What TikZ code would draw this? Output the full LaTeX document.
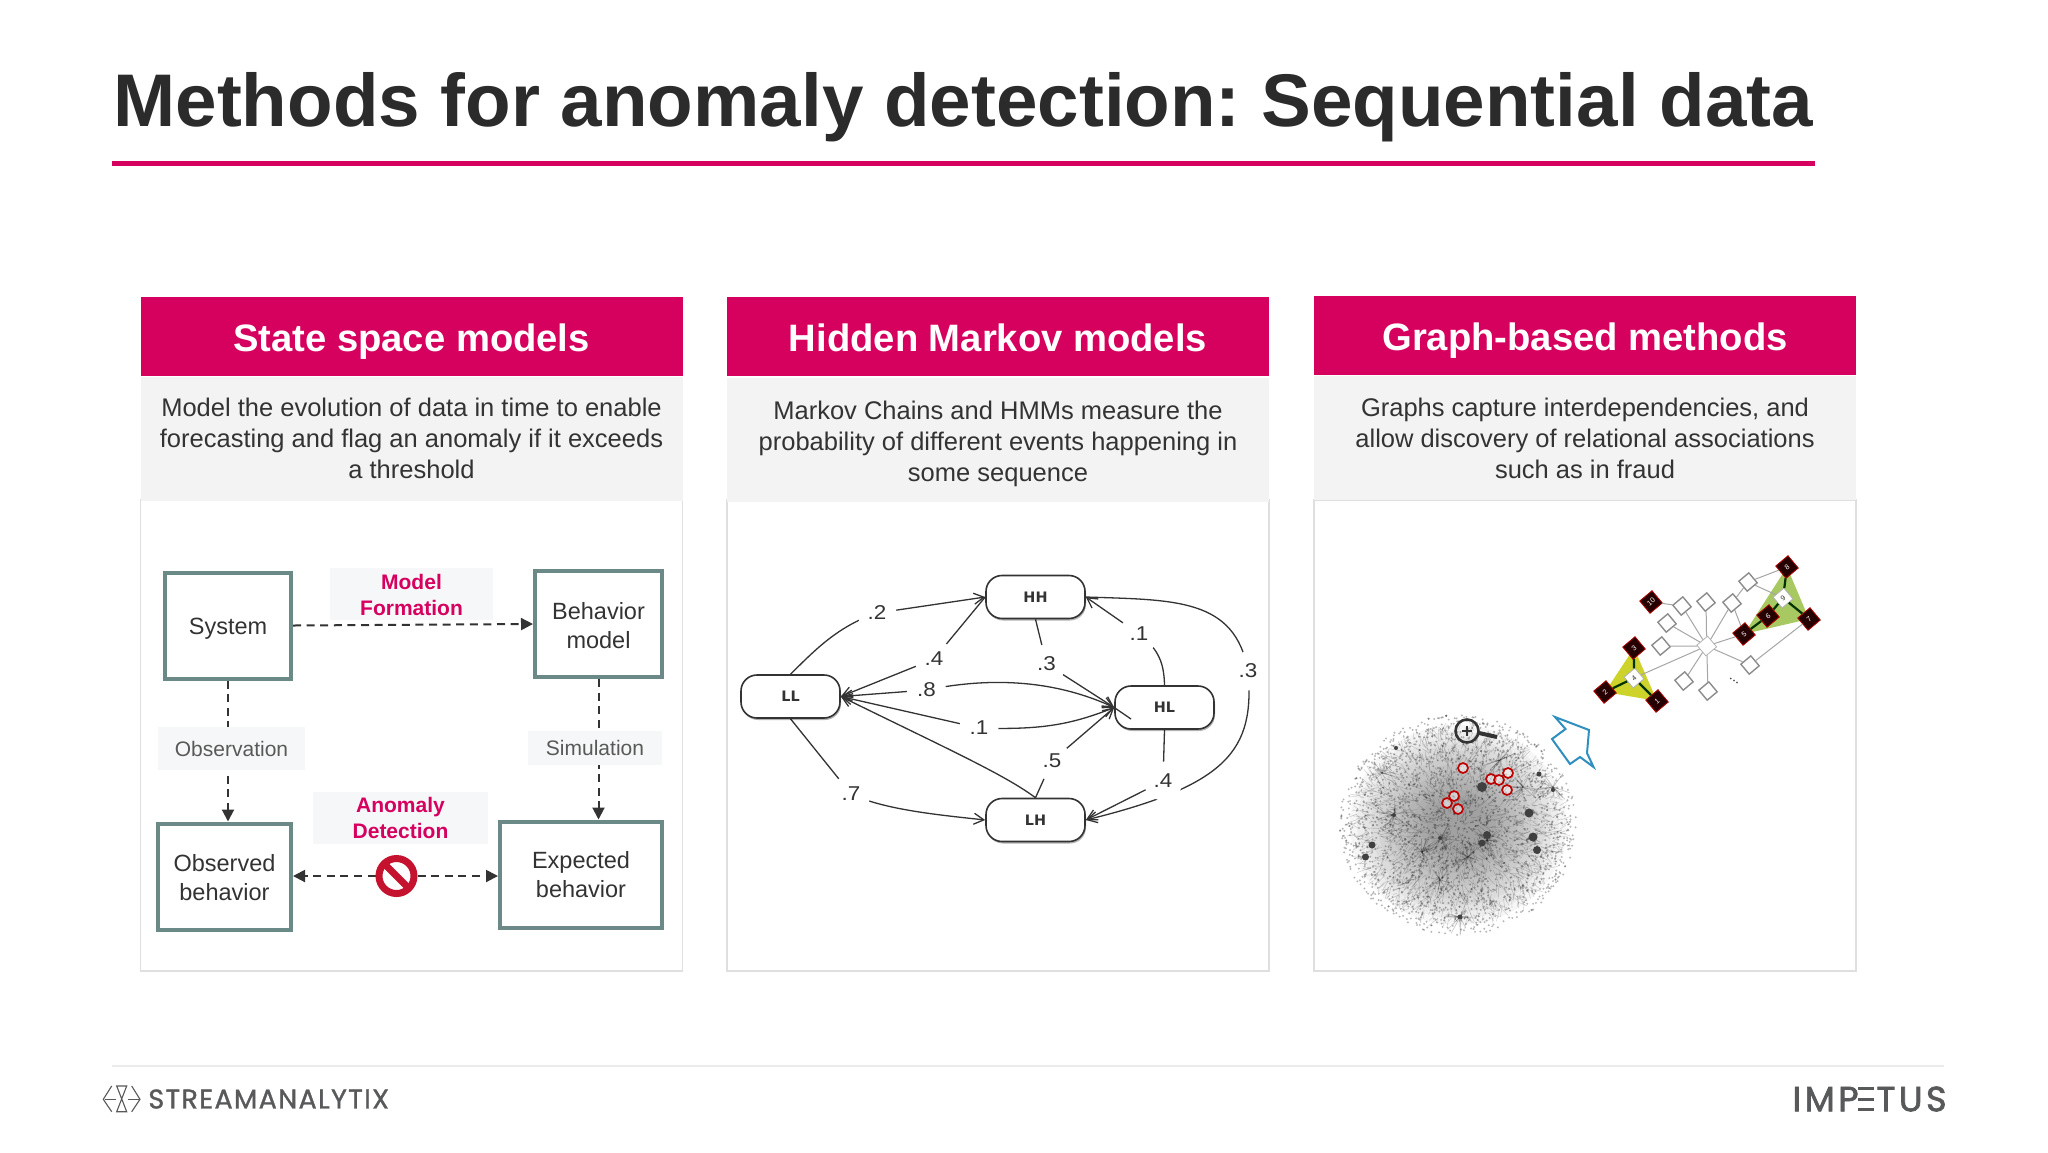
\documentclass[tikz,border=0pt]{standalone}
\usepackage{fontspec}
\setmainfont{Liberation Sans}
\newfontfamily\logofont[FakeBold=1.2,LetterSpace=5]{Poppins}
\newfontfamily\logofontb[FakeBold=2,LetterSpace=10]{Poppins}
\newfontfamily\hmmfont{DejaVu Sans}
\usetikzlibrary{arrows.meta,shadows,shapes.geometric}
\pgfdeclarelayer{panels}
\pgfdeclarelayer{links}
\pgfsetlayers{panels,links,main}
\frenchspacing
\definecolor{brand}{HTML}{D6005F}
\definecolor{ink}{HTML}{333333}
\definecolor{titleink}{HTML}{2B2B2B}
\definecolor{teal}{HTML}{6B8A87}
\definecolor{softgrey}{HTML}{F3F3F3}
\definecolor{labelgrey}{HTML}{F6F7F8}
\definecolor{panelline}{HTML}{DFDFDF}
\definecolor{stopred}{HTML}{C4122F}
\definecolor{logogrey}{HTML}{58595B}
\definecolor{arrowblue}{HTML}{2F8FBF}
\definecolor{triyellow}{HTML}{CDD32A}
\definecolor{trigreen}{HTML}{A8C862}
\newcommand{\hmmlab}[1]{\scalebox{1.12}[1]{#1}}
\newcommand{\nudge}[2]{\raisebox{-#1}[\height][\depth]{\begin{tabular}{@{}c@{}}#2\end{tabular}}}
\newcommand{\barE}{\llap{\rule[0em]{.44em}{.09em}\kern.08em}\llap{\rule[.3em]{.44em}{.09em}\kern.08em}\llap{\rule[.6em]{.44em}{.09em}\kern.08em}}
\tikzset{
  header/.style={fill=brand,text=white,minimum width=271pt,minimum height=39.5pt,inner sep=0pt,text height=15.2pt,text depth=0pt,font=\bfseries\fontsize{19.1}{23}\selectfont},
  subhead/.style={fill=softgrey,text=ink,minimum width=271pt,minimum height=62pt,inner sep=0pt,align=center,font=\fontsize{12.75}{15.5}\selectfont},
  panelbox/.style={draw=panelline,line width=.65pt,fill=white,minimum width=271pt,minimum height=235.5pt,inner sep=0pt},
  statebox/.style={draw=teal,line width=2pt,fill=white,inner sep=0pt,align=center,text=ink,font=\fontsize{11.75}{14.5}\selectfont},
  greytag/.style={fill=labelgrey,inner sep=0pt,text=black!65,font=\fontsize{10.5}{12.7}\selectfont},
  redtag/.style={fill=labelgrey,inner sep=0pt,align=center,text=brand,font=\bfseries\fontsize{10.5}{13}\selectfont},
  flow/.style={draw=ink,line width=1pt,dash pattern=on 4pt off 2.8pt},
  tip/.style={-{Triangle[length=6pt,width=6pt]}},
  hmmstate/.style={draw=ink,line width=.8pt,fill=white,rounded corners=8pt,minimum width=49.5pt,minimum height=21.5pt,inner sep=0pt,
    font=\hmmfont\bfseries\fontsize{7.2}{9}\selectfont,text=ink,drop shadow={shadow xshift=.5pt,shadow yshift=-1pt,opacity=.3,fill=black}},
  hmmlink/.style={draw=ink,line width=.65pt},
  hmmtip/.style={-{Straight Barb[length=5pt,width=5.5pt]}},
  hmmboth/.style={{Straight Barb[length=5pt,width=5.5pt]}-{Straight Barb[length=5pt,width=5.5pt]}},
  hmmprob/.style={circle,fill=white,minimum size=19.5pt,inner sep=0pt,text=ink,font=\fontsize{10}{11}\selectfont},
  plain/.style={draw=black!45,line width=.7pt,fill=white,rotate=40,minimum size=6.5pt,inner sep=0pt},
  marked/.style={draw=red!70!black,line width=.4pt,fill=black!85!red,rotate=40,minimum size=8pt,inner sep=0pt,text=white,font=\fontsize{3.6}{4}\selectfont},
  hubmark/.style={draw=black!30,line width=.4pt,fill=white,rotate=40,minimum size=7pt,inner sep=0pt,text=ink,font=\fontsize{3.6}{4}\selectfont},
  thin link/.style={draw=black!35,line width=.5pt},
  strong link/.style={draw=black!80!green,line width=1.1pt},
  hit/.style={circle,draw=red!75!black,line width=.85pt,fill=white,fill opacity=.5,minimum size=5pt,inner sep=0pt},
}
\begin{document}
\begin{tikzpicture}[x=.5pt,y=-.5pt]
\useasboundingbox (0,0) rectangle (2048,1152);
\begin{pgfonlayer}{panels}
\fill[white] (0,0) rectangle (2048,1152);
\end{pgfonlayer}

% title
\node (title) [anchor=west,inner sep=0pt,text=titleink,font=\bfseries\fontsize{37.3}{44}\selectfont] at (113,107) {Methods for anomaly detection: Sequential data};
\fill[brand] (112,160.5) rectangle (1815,166);

% panels
\begin{pgfonlayer}{panels}
\node (box1) [panelbox] at (411.5,735.5) {};
\node (box2) [panelbox] at (998,735.5) {};
\node (box3) [panelbox] at (1585,735.5) {};
\end{pgfonlayer}
\node (sub1) [subhead] at (411.5,438.5) {\nudge{1.5pt}{Model the evolution of data in time to enable\\forecasting and flag an anomaly if it exceeds\\a threshold}};
\node (sub2) [subhead] at (998,439.5) {\nudge{2.3pt}{Markov Chains and HMMs measure the\\probability of different events happening in\\some sequence}};
\node (sub3) [subhead] at (1585,438) {Graphs capture interdependencies, and\\allow discovery of relational associations\\such as in fraud};
\node (head1) [header] at (411.5,336) {State space models};
\node (head2) [header] at (998,336) {Hidden Markov models};
\node (head3) [header] at (1585,335.5) {Graph-based methods};

% panel 1: state space
\node (sys) [statebox,minimum width=63pt,minimum height=53pt] at (228,625.5) {\nudge{1.4pt}{System}};
\node (beh) [statebox,minimum width=63.5pt,minimum height=53pt] at (598.5,624) {\nudge{2.2pt}{Behavior\\model}};
\node (obs) [statebox,minimum width=66.5pt,minimum height=53pt] at (224.5,876.5) {\nudge{1.6pt}{Observed\\behavior}};
\node (exp) [statebox,minimum width=81pt,minimum height=53pt] at (581,874.5) {\nudge{1.4pt}{Expected\\behavior}};
\node (tagmodel) [redtag,minimum width=81.5pt,minimum height=25.5pt] at (411.5,593.5) {\nudge{1.9pt}{Model\\Formation}};
\node (tagobs) [greytag,minimum width=73.5pt,minimum height=21.5pt] at (231.5,748.5) {Observation};
\node (tagsim) [greytag,minimum width=67pt,minimum height=17pt] at (595,748) {Simulation};
\node (taganom) [redtag,minimum width=87.5pt,minimum height=26pt] at (400.5,818) {\nudge{1.3pt}{Anomaly\\Detection}};
\node (stop) [circle,draw=stopred,line width=3.5pt,fill=white,minimum size=17.5pt,inner sep=0pt,
  path picture={\draw[stopred,line width=3.5pt] (path picture bounding box.north west) -- (path picture bounding box.south east);}] at (396.5,876) {};
\begin{pgfonlayer}{links}
\draw[flow,tip] (sys.east) -- (beh.west);
\draw[flow,tip] (sys.south) -- (sys.south |- obs.north);
\draw[flow,tip] (beh.south) -- (beh.south |- exp.north);
\draw[flow,tip] (stop.west) -- (obs.east |- stop.west);
\draw[flow,tip] (stop.east) -- (exp.west |- stop.east);
\end{pgfonlayer}

% panel 2: HMM
\node (LL) [hmmstate] at (790.5,696.5) {LL};
\node (HH) [hmmstate] at (1035.5,597) {HH};
\node (HL) [hmmstate] at (1164.5,707.5) {HL};
\node (LH) [hmmstate] at (1035.5,820) {LH};
\node (p2) [hmmprob] at (877,613) {\hmmlab{.2}};
\node (p4) [hmmprob] at (934,659) {\hmmlab{.4}};
\node (p8) [hmmprob] at (926.5,690) {\hmmlab{.8}};
\node (p1) [hmmprob] at (979,728) {\hmmlab{.1}};
\node (p3) [hmmprob] at (1046.5,664) {\hmmlab{.3}};
\node (pu) [hmmprob] at (1139,634) {\hmmlab{.1}};
\node (pr) [hmmprob] at (1248,671) {\hmmlab{.3}};
\node (pl) [hmmprob] at (1163,781) {\hmmlab{.4}};
\node (p5) [hmmprob] at (1052,761) {\hmmlab{.5}};
\node (p7) [hmmprob] at (851,794) {\hmmlab{.7}};
\coordinate (stub) at (1131,719);
\draw[hmmlink] (HL.west) -- (stub);
\begin{pgfonlayer}{links}
\draw[hmmlink,hmmtip] (LL.north) .. controls (815,650) and (838,626) .. (p2.center) -- (HH.west);
\draw[hmmlink,hmmtip] (HH.west) -- (p4.center) -- (LL.east);
\draw[hmmlink,hmmboth] (LL.east) -- (p8.center) .. controls (985,678) and (1050,678) .. (HL.west);
\draw[hmmlink,hmmboth] (LL.east) -- (p1.center) .. controls (1040,730) and (1070,725) .. (HL.west);
\draw[hmmlink,hmmtip] (HH.south) -- (p3.center) -- (HL.west);
\draw[hmmlink,hmmtip] (HL.north) .. controls (1164,665) and (1160,650) .. (pu.center) -- (HH.east);
\draw[hmmlink,hmmtip] (HH.east) .. controls (1175,600) and (1235,598) .. (pr.center) .. controls (1255,750) and (1228,785) .. (LH.east);
\draw[hmmlink,hmmtip] (HL.south) -- (pl.center) -- (LH.east);
\draw[hmmlink,hmmtip] (LH.north) -- (p5.center) -- (HL.west);
\draw[hmmlink,hmmtip] (LH.north) .. controls (1005,775) and (950,750) .. (LL.east);
\draw[hmmlink,hmmtip] (LL.south) -- (p7.center) .. controls (885,810) and (940,815) .. (LH.west);
\end{pgfonlayer}

% panel 3: graph cloud
\foreach \k in {0,...,11}{
  \pgfmathsetmacro\rx{108-7*\k}
  \pgfmathsetmacro\ry{100-6.5*\k}
  \fill[black,opacity=.035] (1458,825) ellipse [x radius=\rx,y radius=\ry];
}
\pgfmathsetseed{11}
\foreach \i in {1,...,1500}{
  \pgfmathsetmacro\ang{rnd*360}
  \pgfmathsetmacro\rad{sqrt(rnd)}
  \pgfmathsetmacro\len{3+rnd*9}
  \pgfmathsetmacro\spin{\ang+rnd*90-45}
  \pgfmathsetmacro\cx{1458+104*\rad*cos(\ang)}
  \pgfmathsetmacro\cy{825+96*\rad*sin(\ang)}
  \draw[black,opacity=.16,line width=.3pt] (\cx,\cy) -- ++(\spin:\len);
}
\foreach \i in {1,...,2000}{
  \pgfmathsetmacro\ang{rnd*360}
  \pgfmathsetmacro\rad{sqrt(rnd)*1.03}
  \pgfmathsetmacro\cx{1458+115*\rad*cos(\ang)}
  \pgfmathsetmacro\cy{825+107*\rad*sin(\ang)}
  \fill[black,opacity=.28] (\cx,\cy) circle (.55pt);
}
\foreach \hx/\hy in {1394/815,1441/838,1382/773,1422/852,1468/857,1523/787,1553/787,1460/917,1487/840,1440/880,1500/760}{
  \foreach \k in {1,...,16}{
    \pgfmathsetmacro\ang{rnd*360}
    \pgfmathsetmacro\len{4+rnd*15}
    \draw[black,opacity=.2,line width=.35pt] (\hx,\hy) -- ++(\ang:\len);
  }
}
\foreach \hx/\hy/\hr in {1482/787/5,1529/813/4.5,1487/835/4,1482/843/3.5,1533/837/4.5,1537/850/4,1372/845/3.5,1365.5/857/3.5,1396/748/2,1539/774/2.5,1460/917/2.5,1553/790/2,1440/838/2,1394/815/2}{
  \fill[black!75] (\hx,\hy) circle [radius=\hr];
}
\node (h1) [hit] at (1463,768) {};
\node (h2) [hit] at (1491,779) {};
\node (h3) [hit] at (1499,780) {};
\node (h4) [hit] at (1508,773) {};
\node (h5) [hit] at (1507,790) {};
\node (h6) [hit] at (1454,796) {};
\node (h7) [hit] at (1447,803) {};
\node (h8) [hit] at (1458,809) {};
% magnifier
\draw[black!80,line width=1.3pt] (1467,731) circle [radius=11.5];
\draw[black!80,line width=1.2pt] (1462,731) -- (1472,731) (1467,726) -- (1467,736);
\draw[black!80,line width=2pt] (1479,733) -- (1497,737);
% blue outline arrow
\draw[draw=arrowblue,line width=1pt,line join=miter] (1555,717) -- (1589,730) -- (1587,753) -- (1593.5,767) -- (1580,757) -- (1570,764) -- (1552,739) -- (1565.5,729) -- cycle;
% small graph
\fill[triyellow] (1634,648) -- (1605,692) -- (1657,701) -- cycle;
\fill[trigreen] (1787,567) -- (1744,634) -- (1809,619) -- cycle;
\node (hub) [hubmark] at (1706.7,646) {};
\node (s1) [plain] at (1682,606) {};
\node (s2) [plain] at (1706,602) {};
\node (s3) [plain] at (1732,603) {};
\node (s4) [plain] at (1748,582) {};
\node (s5) [plain] at (1667,623) {};
\node (s6) [plain] at (1661,646) {};
\node (s7) [plain] at (1750,665) {};
\node (s8) [plain] at (1684,681) {};
\node (s9) [plain] at (1708,691) {};
\node (n10) [marked] at (1651,602) {10};
\node (n5) [marked] at (1744,634) {5};
\node (n6) [marked] at (1768,616) {6};
\node (n8) [marked] at (1787,567) {8};
\node (n7) [marked] at (1809,619) {7};
\node (n9) [hubmark] at (1783,598) {9};
\node (n3) [marked] at (1634,648) {3};
\node (n2) [marked] at (1605,692) {2};
\node (n1) [marked] at (1657,701) {1};
\node (n4) [hubmark] at (1634,678) {4};
\node (more) [rotate=-35,inner sep=0pt,text=ink,font=\fontsize{7}{8}\selectfont] at (1734,681) {...};
\draw[thin link] (hub) -- (s1);
\draw[thin link] (hub) -- (s2);
\draw[thin link] (hub) -- (s3);
\draw[thin link] (hub) -- (s5);
\draw[thin link] (hub) -- (s6);
\draw[thin link] (hub) -- (s7);
\draw[thin link] (hub) -- (s8);
\draw[thin link] (hub) -- (s9);
\draw[thin link] (hub) -- (n4);
\draw[thin link] (hub) -- (n5);
\draw[thin link] (s1) -- (n10);
\draw[thin link] (s3) -- (s4);
\draw[thin link] (s3) -- (n5);
\draw[thin link] (s4) -- (n8);
\draw[thin link] (s7) -- (n7);
\draw[thin link] (s4) -- (n9);
\draw[strong link] (n3) -- (n4);
\draw[strong link] (n2) -- (n4);
\draw[strong link] (n1) -- (n4);
\draw[strong link] (n5) -- (n6);
\draw[strong link] (n6) -- (n9);
\draw[strong link] (n8) -- (n9);
\draw[strong link] (n7) -- (n9);

% footer
\draw[black!8,line width=1pt] (112,1066) -- (1944,1066);
\begin{scope}[draw=logogrey,line width=.55pt]
\draw (111.7,1086) -- (103.3,1099.3) -- (111.7,1111.7);
\draw (131.7,1086) -- (140,1099.3) -- (131.7,1111.7);
\draw (116.7,1086) -- (126.7,1086) -- (116.7,1111.7) -- (126.7,1111.7) -- cycle;
\draw (105,1099.3) -- (115.5,1099.3) (128,1099.3) -- (138.5,1099.3);
\end{scope}
\node (brandleft) [anchor=west,inner sep=0pt,text=logogrey,font=\logofont\fontsize{13.5}{15}\selectfont] at (148,1099) {STREAMANALYTIX};
\node (brandright) [anchor=east,inner sep=0pt,text=logogrey,font=\logofontb\fontsize{17.5}{20}\selectfont] at (1947,1099) {IMP\textcolor{white}{E}\barE TUS};
\end{tikzpicture}
\end{document}
